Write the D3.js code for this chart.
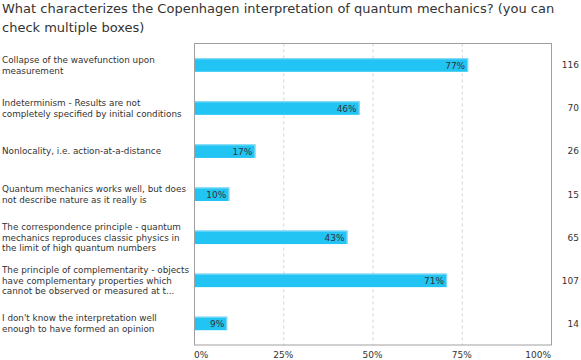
<!DOCTYPE html>
<html>
<head>
<meta charset="utf-8">
<script src="https://cdn.jsdelivr.net/npm/d3@7"></script>
<style>
  body { margin: 0; background: #fff; }
  text { font-family: "DejaVu Sans", Verdana, sans-serif; fill: #333; }
</style>
</head>
<body>
<div id="viz"></div>
<script>
const titleLines = [
  'What characterizes the Copenhagen interpretation of quantum mechanics? (you can',
  'check multiple boxes)'
]

// each answer, with its line breaks as in the picture
const categories = [
  ['Collapse of the wavefunction upon', 'measurement'],
  ['Indeterminism - Results are not', 'completely specified by initial conditions'],
  ['Nonlocality, i.e. action-at-a-distance'],
  ['Quantum mechanics works well, but does', 'not describe nature as it really is'],
  ['The correspondence principle - quantum', 'mechanics reproduces classic physics in', 'the limit of high quantum numbers'],
  ['The principle of complementarity - objects', 'have complementary properties which', 'cannot be observed or measured at t...'],
  ["I don't know the interpretation well", 'enough to have formed an opinion']
]

const percents = [76.8, 46.4, 17.2, 9.9, 43.0, 70.9, 9.3]
const counts = [116, 70, 26, 15, 65, 107, 14]
const xTicks = [0, 25, 50, 75, 100]

const width = 581
const height = 360
const margin = { top: 43.5, right: 30, bottom: 15, left: 194 }
const plotW = width - margin.left - margin.right
const plotH = height - margin.top - margin.bottom
const barH = 13.5

const svg = d3.select('#viz')
  .append('svg')
  .attr('width', width)
  .attr('height', height)

// title
svg.append('g')
  .selectAll('text')
  .data(titleLines)
  .join('text')
  .attr('x', 2)
  .attr('y', (d, i) => 13 + i * 19)
  .attr('font-size', 13)
  .text(d => d)

const g = svg.append('g')
  .attr('transform', `translate(${margin.left}, ${margin.top})`)

const x = d3.scaleLinear().domain([0, 100]).range([0, plotW])
const y = d3.scaleBand().domain(d3.range(categories.length)).range([0, plotH]).padding(0)

// dashed grid
g.append('g')
  .selectAll('line')
  .data(xTicks.filter(t => t > 0 && t < 100))
  .join('line')
  .attr('x1', d => x(d) + 0.5)
  .attr('x2', d => x(d) + 0.5)
  .attr('y1', 0)
  .attr('y2', plotH)
  .attr('stroke', '#d4d4d4')
  .attr('stroke-dasharray', '3,3')

// frame
g.append('rect')
  .attr('x', 0.5)
  .attr('y', 0)
  .attr('width', plotW)
  .attr('height', plotH)
  .attr('fill', 'none')
  .attr('stroke', '#a0a0a0')

// bars
const bars = g.append('g')
  .selectAll('g')
  .data(percents)
  .join('g')
  .attr('transform', (d, i) => `translate(0, ${y(i) + y.bandwidth() / 2})`)

bars.append('rect')
  .attr('x', 1)
  .attr('y', -barH / 2)
  .attr('width', d => x(d) - 1)
  .attr('height', barH)
  .attr('fill', '#22c4f3')

bars.append('line')
  .attr('x1', 1)
  .attr('x2', d => x(d))
  .attr('y1', -barH / 2 + 0.5)
  .attr('y2', -barH / 2 + 0.5)
  .attr('stroke', '#8fdcf6')

bars.append('line')
  .attr('x1', d => x(d) - 0.5)
  .attr('x2', d => x(d) - 0.5)
  .attr('y1', -barH / 2)
  .attr('y2', barH / 2)
  .attr('stroke', '#8fdcf6')

bars.append('text')
  .attr('x', d => x(d) - 3)
  .attr('y', 3.5)
  .attr('text-anchor', 'end')
  .attr('font-size', 9)
  .attr('fill', '#222')
  .text(d => Math.round(d) + '%')

// category labels
const lineH = 10.8
svg.append('g')
  .selectAll('text')
  .data(categories)
  .join('text')
  .attr('font-size', 8.8)
  .each(function (lines, i) {
    const cy = margin.top + y(i) + y.bandwidth() / 2
    const y0 = cy - (lines.length - 1) * lineH / 2 + 3.3
    d3.select(this).selectAll('tspan')
      .data(lines)
      .join('tspan')
      .attr('x', 2)
      .attr('y', (d, j) => y0 + j * lineH)
      .text(d => d)
  })

// counts on the right
svg.append('g')
  .selectAll('text')
  .data(counts)
  .join('text')
  .attr('x', 579)
  .attr('y', (d, i) => margin.top + y(i) + y.bandwidth() / 2 + 3.3)
  .attr('text-anchor', 'end')
  .attr('font-size', 9)
  .text(d => d)

// x tick labels
g.append('g')
  .selectAll('text')
  .data(xTicks)
  .join('text')
  .attr('x', d => x(d))
  .attr('y', plotH + 13)
  .attr('text-anchor', d => d === 0 ? 'start' : d === 100 ? 'end' : 'middle')
  .attr('font-size', 9)
  .text(d => d + '%')
</script>
</body>
</html>
